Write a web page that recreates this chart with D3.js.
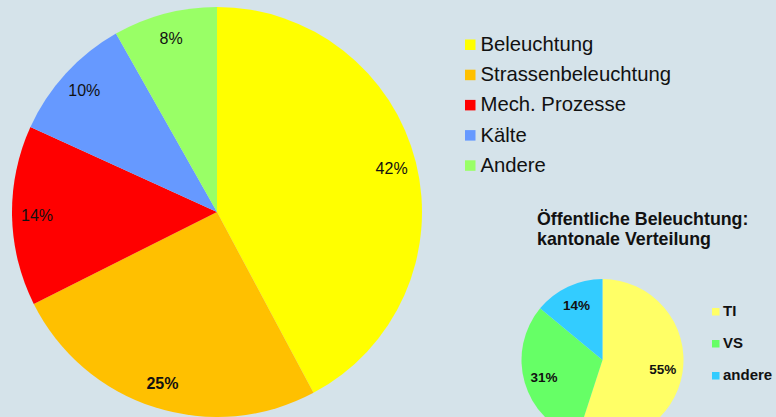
<!DOCTYPE html>
<html>
<meta charset="utf-8">
<title>Stromverbrauch</title>
<style>
  body { margin: 0; background: #d5e3ea; }
  svg { display: block; font-family: "Liberation Sans", Arial, sans-serif; }
  .lbl { fill: #111; }
</style>
<body>
<div id="chart"></div>
<script src="https://d3js.org/d3.v7.min.js"></script>
<script>
// main pie
var categories = ["Beleuchtung", "Strassenbeleuchtung", "Mech. Prozesse", "Kälte", "Andere"];
var shares = [42.2, 25.4, 14.2, 10.0, 8.2];
var labels = ["42%", "25%", "14%", "10%", "8%"];
var colors = ["#ffff00", "#ffc000", "#ff0000", "#6699ff", "#99ff66"];

// small pie: kantonale Verteilung
var cantons = ["TI", "VS", "andere"];
var cantonShares = [55, 31, 14];
var cantonLabels = ["55%", "31%", "14%"];
var cantonColors = ["#ffff66", "#66ff66", "#33ccff"];

var width = 776, height = 417;

var svg = d3.select("#chart").append("svg")
    .attr("width", width)
    .attr("height", height);

svg.append("rect").attr("width", width).attr("height", height).attr("fill", "#d5e3ea");

var pie = d3.pie().sort(null).value(function(d) { return d; });

// big pie
var R = 205;
var arc = d3.arc().innerRadius(0).outerRadius(R);
var labelArc = d3.arc().innerRadius(180).outerRadius(180);

var big = svg.append("g").attr("transform", "translate(217,212)");
var bigArcs = pie(shares);

big.selectAll("path")
    .data(bigArcs)
  .enter().append("path")
    .attr("d", arc)
    .attr("fill", function(d, i) { return colors[i]; });

big.selectAll("text")
    .data(bigArcs)
  .enter().append("text")
    .attr("class", "lbl")
    .attr("transform", function(d) { return "translate(" + labelArc.centroid(d) + ")"; })
    .attr("text-anchor", "middle")
    .attr("dy", "0.36em")
    .style("font-size", "16px")
    .style("font-weight", function(d, i) { return i == 1 ? "bold" : "normal"; })
    .text(function(d, i) { return labels[i]; });

// legend big
var legend = svg.append("g").attr("transform", "translate(465,0)");
var lg = legend.selectAll("g")
    .data(categories)
  .enter().append("g")
    .attr("transform", function(d, i) { return "translate(0," + (51 + i * 30.2) + ")"; });
lg.append("rect")
    .attr("x", 0).attr("y", -11.5)
    .attr("width", 10.5).attr("height", 10.5)
    .attr("fill", function(d, i) { return colors[i]; });
lg.append("text")
    .attr("x", 15.5)
    .attr("class", "lbl")
    .style("font-size", "20.3px")
    .text(function(d) { return d; });

// title small pie
var title = svg.append("text")
    .attr("class", "lbl")
    .attr("x", 537)
    .style("font-size", "17.8px")
    .style("font-weight", "bold");
title.append("tspan").attr("x", 537).attr("y", 225).text("Öffentliche Beleuchtung:");
title.append("tspan").attr("x", 537).attr("y", 245).text("kantonale Verteilung");

// small pie
var r = 81;
var smallArc = d3.arc().innerRadius(0).outerRadius(r);
var smallLabelArc = d3.arc().innerRadius(61).outerRadius(61);
var small = svg.append("g").attr("transform", "translate(602.5,360)");
var smallArcs = pie(cantonShares);

small.selectAll("path")
    .data(smallArcs)
  .enter().append("path")
    .attr("d", smallArc)
    .attr("fill", function(d, i) { return cantonColors[i]; });

small.selectAll("text")
    .data(smallArcs)
  .enter().append("text")
    .attr("class", "lbl")
    .attr("transform", function(d) { return "translate(" + smallLabelArc.centroid(d) + ")"; })
    .attr("text-anchor", "middle")
    .attr("dy", "0.36em")
    .style("font-size", "13.5px")
    .style("font-weight", "bold")
    .text(function(d, i) { return cantonLabels[i]; });

// legend small
var lg2 = svg.append("g").attr("transform", "translate(712,0)")
  .selectAll("g")
    .data(cantons)
  .enter().append("g")
    .attr("transform", function(d, i) { return "translate(0," + (316 + i * 32) + ")"; });
lg2.append("rect")
    .attr("x", 0).attr("y", -8)
    .attr("width", 7.5).attr("height", 7.5)
    .attr("fill", function(d, i) { return cantonColors[i]; });
lg2.append("text")
    .attr("x", 11)
    .attr("class", "lbl")
    .style("font-size", "15px")
    .style("font-weight", "bold")
    .text(function(d) { return d; });
</script>
</body>
</html>
